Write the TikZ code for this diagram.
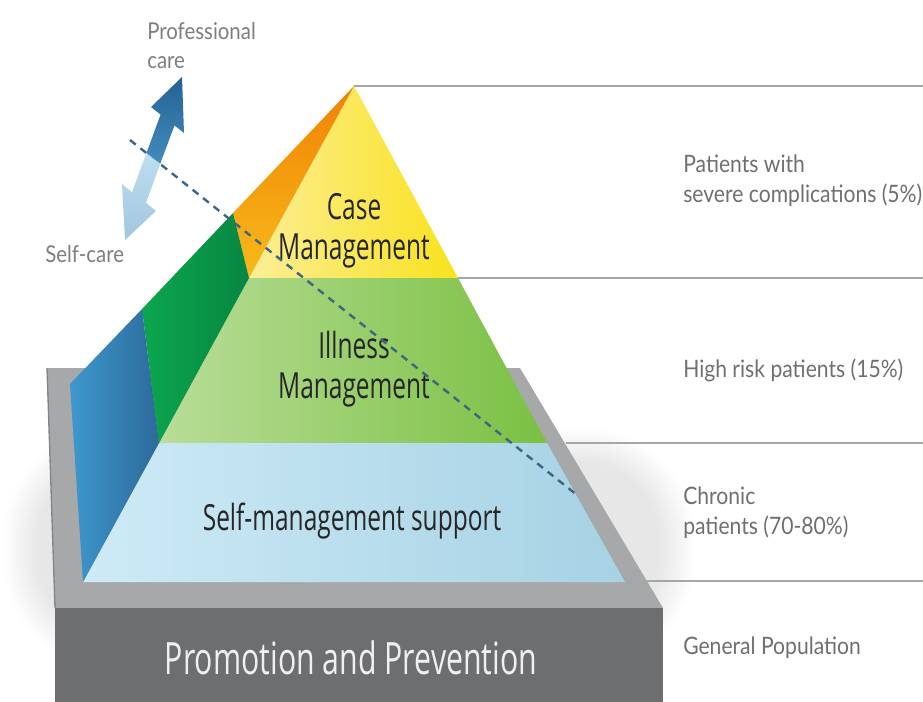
\documentclass[tikz,border=0pt]{standalone}
\usepackage{fontspec}
\newfontfamily\pyrfont[FakeStretch=0.68]{Open Sans}
\newfontfamily\sidefont[FakeStretch=0.88]{Lato}

\definecolor{sidegray}{RGB}{110,111,113}
\definecolor{caregray}{RGB}{125,126,128}
\definecolor{linegray}{RGB}{165,166,168}
\definecolor{deckgray}{RGB}{167,168,170}
\definecolor{frontgray}{RGB}{109,110,112}
\definecolor{dashblue}{RGB}{62,102,130}

\tikzset{
  sepline/.style={draw=linegray, line width=1.5pt},
  pyrlabel/.style={inner sep=0pt, align=center, text=black!85, font=\pyrfont\fontsize{27}{30}\selectfont},
  sidelabel/.style={anchor=west, inner sep=0pt, align=left, text=sidegray, font=\sidefont\fontsize{18}{22.5}\selectfont},
  carelabel/.style={anchor=west, inner sep=0pt, align=left, text=caregray, font=\sidefont\fontsize{17.4}{21.75}\selectfont},
}

\begin{document}
\begin{tikzpicture}[x=0.75pt,y=0.75pt,yscale=-1,xscale=1]
\useasboundingbox (0,0) rectangle (923,701);
\clip (0,0) rectangle (923,701);

%Shape: soft shadow round the base
\foreach \i in {0,...,11}
  \fill[black, opacity=0.0065, rounded corners={(112-3*\i)*0.75pt}] (4+3*\i,428+3*\i) rectangle (694-3*\i,670-3*\i);

% pyramid corners
\coordinate (apex) at (354,86);
\coordinate (y1) at (249,278);
\coordinate (y2) at (458,278);
\coordinate (g1) at (159,443);
\coordinate (g2) at (547,443);
\coordinate (b1) at (83,582);
\coordinate (b2) at (625,582);
% ridge of the left faces
\coordinate (r1) at (233,213);
\coordinate (r2) at (142,309);
\coordinate (r3) at (70,384);
% base slab
\coordinate (d1) at (47,368);
\coordinate (d2) at (520,368);
\coordinate (d3) at (663,608);
\coordinate (d4) at (55,608);
\coordinate (e1) at (566,443);
\coordinate (e2) at (647,581);

%Shape: base top
\fill[deckgray] (d1) -- (d2) -- (d3) -- (d4) -- cycle;
\draw[frontgray!85, line width=1pt] (d1) -- (d4);
%Shape: base front
\fill[frontgray] (d4) -- (d3) -- (663,720) -- (55,720) -- cycle;

%Shape: front bands
\shade[left color={rgb,255:red,252;green,238;blue,150}, right color={rgb,255:red,249;green,226;blue,28}] (apex) -- (y2) -- (y1) -- cycle;
\shade[left color={rgb,255:red,185;green,221;blue,152}, right color={rgb,255:red,122;green,192;blue,66}] (y1) -- (y2) -- (g2) -- (g1) -- cycle;
\shade[left color={rgb,255:red,206;green,234;blue,246}, right color={rgb,255:red,166;green,210;blue,228}] (g1) -- (g2) -- (b2) -- (b1) -- cycle;

%Shape: left faces
\shade[top color={rgb,255:red,240;green,130;blue,5}, bottom color={rgb,255:red,248;green,186;blue,26}] (apex) -- (r1) -- (y1) -- cycle;
\shade[left color={rgb,255:red,12;green,166;blue,78}, right color={rgb,255:red,7;green,134;blue,66}] (r1) -- (r2) -- (g1) -- (y1) -- cycle;
\shade[left color={rgb,255:red,62;green,152;blue,206}, right color={rgb,255:red,44;green,106;blue,154}] (r2) -- (r3) -- (b1) -- (g1) -- cycle;

%Straight Lines: level separators
\draw[sepline] (apex) -- (923,86);
\draw[sepline] (y2) -- (923,278);
\draw[sepline] (e1) -- (923,443);
\draw[sepline] (e2) -- (923,581);

% Text Node
\node[pyrlabel] (case) at (354,231) {Case\\Management};
% Text Node
\node[pyrlabel] (illness) at (354,369) {Illness\\Management};
% Text Node
\node[pyrlabel] (selfmgmt) at (352,521) {Self-management support};
% Text Node
\node[pyrlabel, text=white!94!black, font=\pyrfont\fontsize{33.4}{40}\selectfont] (promo) at (351,658) {Promotion and Prevention};

%Straight Lines: care boundary
\coordinate (c0) at (130,140);
\coordinate (c1) at (577,495);
\draw[dashblue, line width=1.8pt, dash pattern=on 5.5pt off 4.5pt] (c0) -- (c1);

%Shape: two-way arrow, professional half
\shade[top color={rgb,255:red,36;green,98;blue,148}, bottom color={rgb,255:red,66;green,140;blue,190}] (182,77) -- (184,133) -- (174.5,125.4) -- (160.2,163.8) -- (146.4,153.2) -- (160.6,114.6) -- (151,107) -- cycle;
%Shape: two-way arrow, self-care half
\shade[top color={rgb,255:red,190;green,222;blue,240}, bottom color={rgb,255:red,160;green,198;blue,222}] (146.4,153.2) -- (160.2,163.8) -- (146,202.8) -- (156,211) -- (125,240) -- (122,184) -- (132,192.2) -- cycle;

% Text Node
\node[carelabel] (pro) at (147,46) {Professional\\care};
% Text Node
\node[carelabel] (self) at (45,254) {Self-care};

% Text Node
\node[sidelabel] (severe) at (683,181) {Patients with\\severe complications (5\%)};
% Text Node
\node[sidelabel] (highrisk) at (683,370) {High risk patients (15\%)};
% Text Node
\node[sidelabel] (chronic) at (683,513) {Chronic\\patients (70-80\%)};
% Text Node
\node[sidelabel] (general) at (683,648) {General Population};

\end{tikzpicture}
\end{document}
